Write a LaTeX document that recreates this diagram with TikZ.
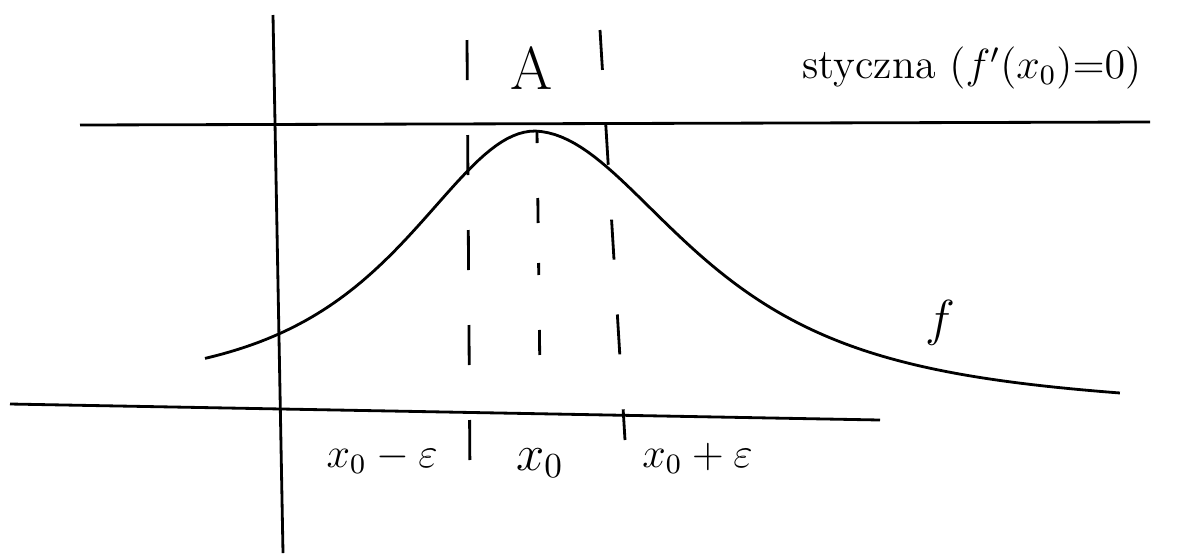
\documentclass[tikz,border=0pt]{standalone}
\usetikzlibrary{positioning}

\tikzset{
  ligne/.style={line width=0.8pt},
  pointille/.style={line width=0.8pt, dash pattern=on 0.4cm off 0.55cm},
  etiq/.style={font=\Large}
}

\begin{document}
\begin{tikzpicture}

  % Cadre
  \useasboundingbox (0,0) rectangle (11.98,5.53);

  % Eixos
  \coordinate (ex0) at (0.1,1.49);
  \coordinate (ex1) at (8.8,1.33);
  \coordinate (ey0) at (2.73,5.38);
  \coordinate (ey1) at (2.83,0);
  \draw[ligne] (ex0) -- (ex1);
  \draw[ligne] (ey0) -- (ey1);

  % Tangent
  \coordinate (t0) at (0.8,4.28);
  \coordinate (t1) at (11.5,4.31);
  \draw[ligne] (t0) -- (t1);

  % Funcio f
  \draw[ligne] plot[domain=2.05:5.35, samples=60]
    (\x,{1.68+2.54/cosh((\x-5.35)/1.12)});
  \draw[ligne] plot[domain=5.35:11.2, samples=90]
    (\x,{1.75-0.035*(\x-5.35)+2.47/cosh((\x-5.35)/1.3)});

  % Verticals discontinues
  \coordinate (ea) at (4.67,5.13);
  \coordinate (eb) at (4.70,0.73);
  \coordinate (ma) at (5.37,4.22);
  \coordinate (mb) at (5.40,1.73);
  \coordinate (da) at (6.0,5.23);
  \coordinate (db) at (6.25,1.13);
  \draw[pointille] (ea) -- (eb);
  \draw[pointille, dash pattern=on 0.12cm off 0.55cm on 0.25cm off 0.4cm] (ma) -- (mb);
  \draw[pointille] (da) -- (db);

  % Etiquetes
  \node[etiq, font=\LARGE] (A) at (5.32,4.85) {A};
  \node[etiq, font=\large, anchor=west] (tang) at (7.9,4.85) {styczna $(f'(x_0){=}0)$};
  \node[etiq] (f) at (9.4,2.3) {$f$};
  \node[etiq, font=\large, anchor=east] (xm) at (4.5,0.95) {$x_0-\varepsilon$};
  \node[etiq] (x0) at (5.4,0.9) {$x_0$};
  \node[etiq, font=\large, anchor=west] (xp) at (6.3,0.95) {$x_0+\varepsilon$};

\end{tikzpicture}
\end{document}
